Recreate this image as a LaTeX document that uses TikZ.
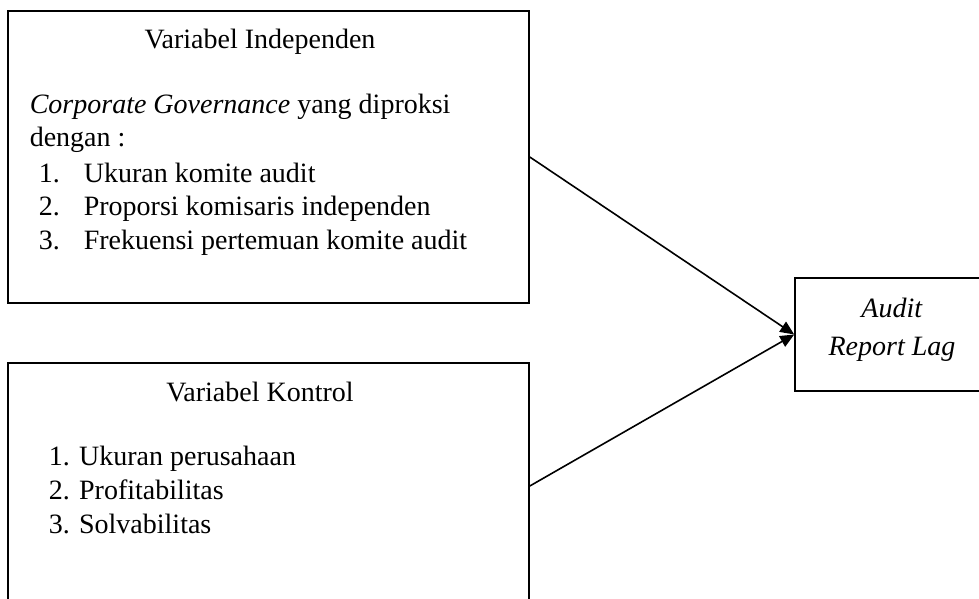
\documentclass[tikz,border=0pt]{standalone}
\usepackage{fontspec}
\setmainfont{Liberation Serif}
\usetikzlibrary{arrows.meta}
\begin{document}
\begin{tikzpicture}[x=0.5pt,y=-0.5pt,line width=0.8pt,font=\fontsize{14}{17}\selectfont,
  box/.style={draw,rectangle,inner sep=0pt},
  txt/.style={anchor=base west,inner sep=0pt},
  ttl/.style={anchor=base,inner sep=0pt},
  arr/.style={-{Triangle[length=7pt,width=6pt]}}]
\clip (0,0) rectangle (979,599);
% boxes
\node[box,minimum width=260.5pt,minimum height=146pt] (ind) at (268.5,157) {};
\node[box,minimum width=260.5pt,minimum height=123pt] (kon) at (268.5,486) {};
\node[box,minimum width=97pt,minimum height=56.5pt] (dep) at (892,334.5) {};
% variabel independen
\node[ttl] (indtitle) at (260,49) {Variabel Independen};
\node[txt] (cg) at (29,113) {\textit{Corporate Governance} yang diproksi};
\node[txt] (dengan) at (29,147) {dengan :};
\foreach \n/\item/\y in {1/Ukuran komite audit/182,2/Proporsi komisaris independen/215,3/Frekuensi pertemuan komite audit/249}{
  \node[txt] (num\n) at (38,\y) {\n.};
  \node[txt] (item\n) at (83,\y) {\item};
}
% variabel kontrol
\node[ttl] (kontitle) at (260,401) {Variabel Kontrol};
\node[txt] (kon1) at (48,465) {1. Ukuran perusahaan};
\node[txt] (kon2) at (48,499) {2. Profitabilitas};
\node[txt] (kon3) at (48,533) {3. Solvabilitas};
% variabel dependen
\node[ttl] (dep1) at (892,317) {\textit{Audit}};
\node[ttl] (dep2) at (892,355) {\textit{Report Lag}};
% panah
\draw[arr] (ind.east) -- (dep.west);
\draw[arr] (kon.east) -- (dep.west);
\end{tikzpicture}
\end{document}
